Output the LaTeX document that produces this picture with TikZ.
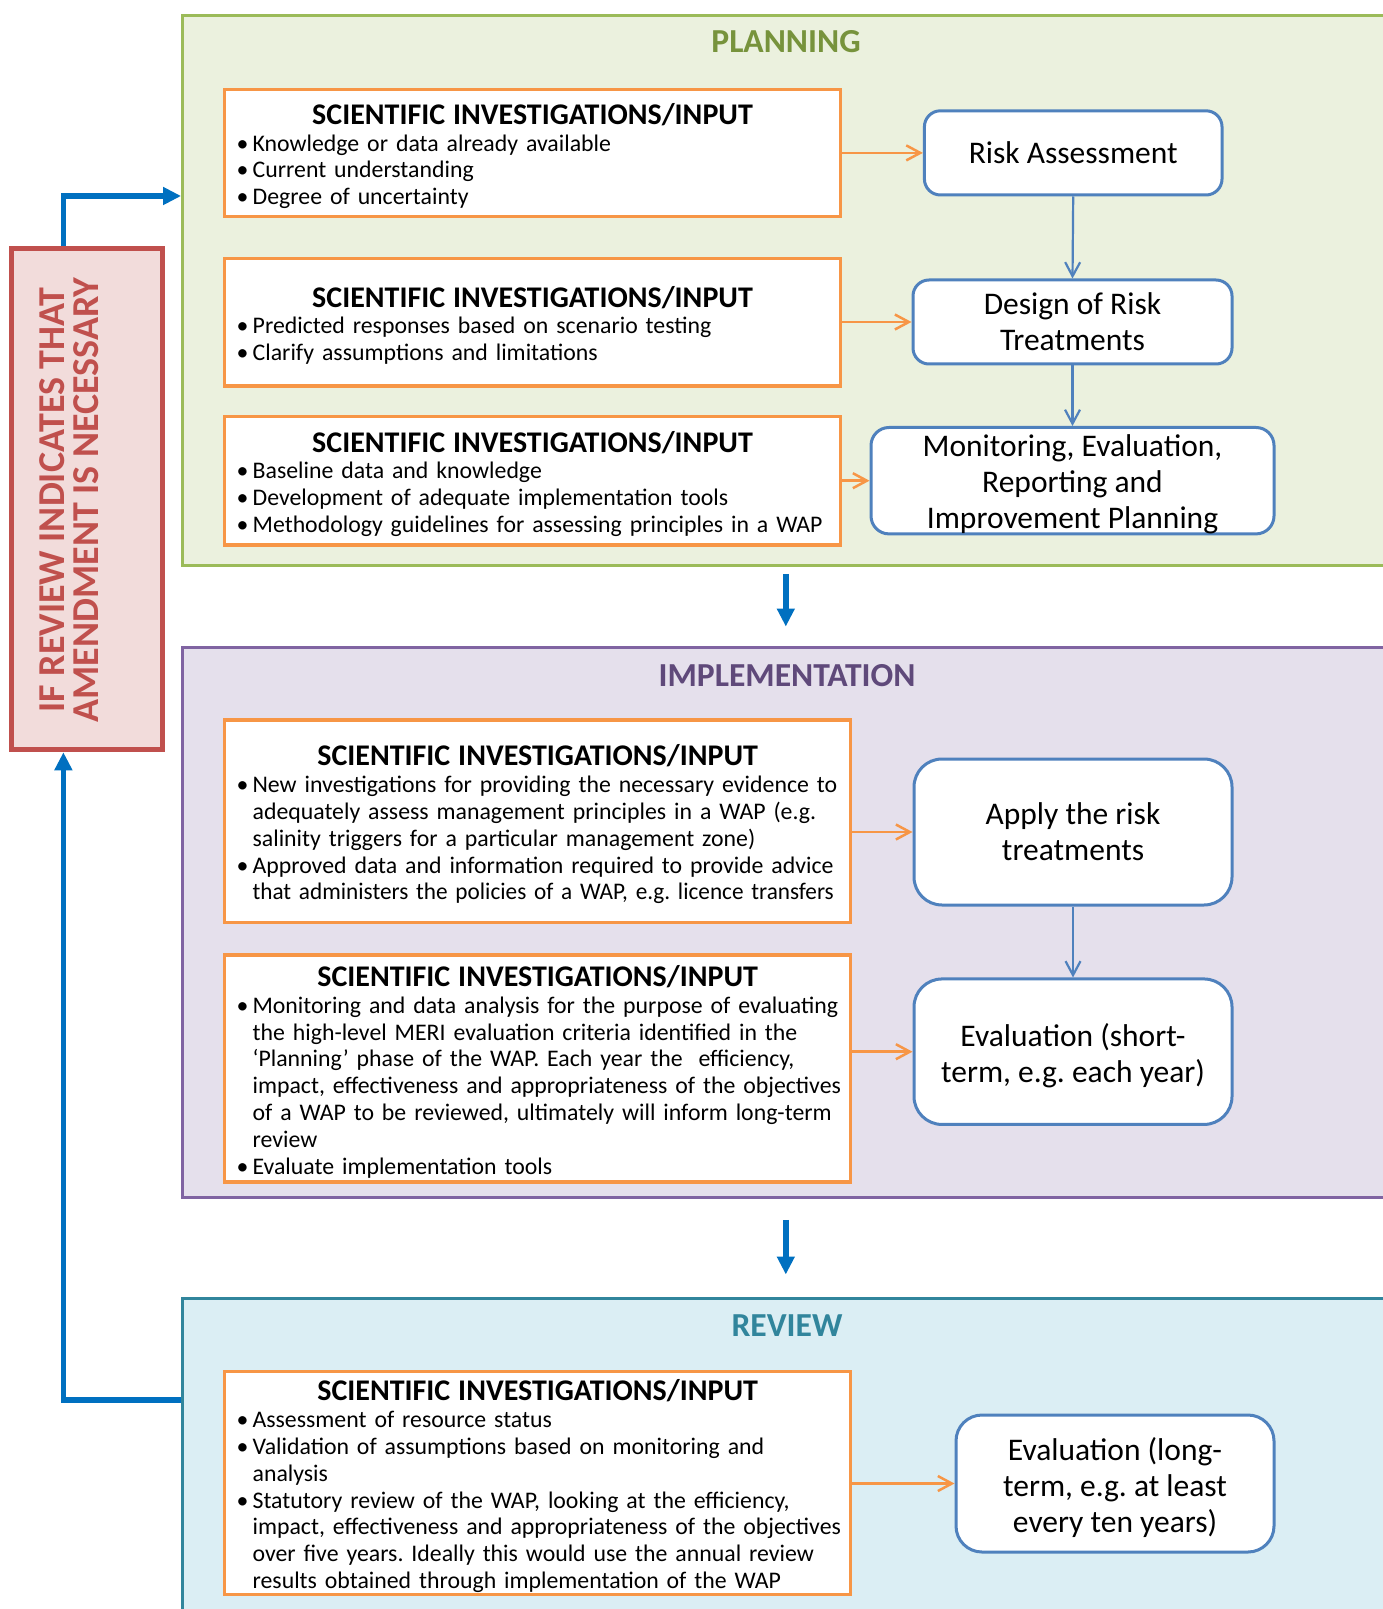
\documentclass[tikz,border=0pt]{standalone}
\usepackage{fontspec}
\usepackage{graphicx}
\setmainfont{Carlito}
\usetikzlibrary{arrows.meta,calc}
\definecolor{gfill}{HTML}{EBF1DE}
\definecolor{gline}{HTML}{9BBB59}
\definecolor{gtext}{HTML}{77933C}
\definecolor{pfill}{HTML}{E5E0EC}
\definecolor{pline}{HTML}{8064A2}
\definecolor{ptext}{HTML}{5F497A}
\definecolor{rfill}{HTML}{DBEEF4}
\definecolor{rline}{HTML}{31859C}
\definecolor{sorange}{HTML}{F79646}
\definecolor{bbox}{HTML}{4F81BD}
\definecolor{arrblue}{HTML}{0070C0}
\definecolor{redline}{HTML}{C0504D}
\definecolor{redfill}{HTML}{F2DCDB}
\frenchspacing
\newcommand\bl[1]{\par\noindent\makebox[6pt][l]{\hspace*{-2pt}•}\mbox{#1}}
\newcommand\cl[1]{\par\noindent\hspace*{6pt}\mbox{#1}}
\newcommand\sititle{{\centering\fontsize{15}{15.5}\selectfont\bfseries\rule{0pt}{13.7pt}SCIENTIFIC INVESTIGATIONS/INPUT\par}}
\begin{document}
\begin{tikzpicture}[x=0.5pt,y=-0.5pt,
  phase/.style={line width=1.5pt, minimum width=603.2pt, inner sep=0pt},
  phtitle/.style={font=\fontsize{16.8}{18}\selectfont\bfseries, inner sep=0pt},
  sibox/.style={draw=sorange, line width=1.75pt, fill=white, inner xsep=8pt, inner ysep=0pt,
    align=left, font=\fontsize{11.9}{13.4}\selectfont},
  pw/.style={text width=291.8pt},
  iw/.style={text width=297pt},
  rbox/.style={draw=bbox, line width=1.5pt, fill=white, align=center, inner sep=0pt,
    font=\fontsize{15.75}{18}\selectfont},
  oarr/.style={draw=sorange, line width=1.25pt, -{Straight Barb[length=7pt,width=7.5pt]}},
  barr/.style={draw=bbox, line width=1.1pt, -{Straight Barb[length=7pt,width=7.5pt]}},
  bigarr/.style={draw=arrblue, line width=2.75pt, -{Triangle[length=9pt,width=8.5pt]}}
]
\useasboundingbox (0,0) rectangle (1382,1609);
% phases
\node[phase, draw=gline, fill=gfill, minimum height=274.95pt] (plan) at (785.8,290.4) {};
\node[phase, draw=pline, fill=pfill, minimum height=274.95pt] (impl) at (785.8,922.4) {};
\node[phase, draw=rline, fill=rfill, minimum height=175pt] (rev) at (785.8,1473) {};
\node[phtitle, text=gtext] (ptitle) at (786,42) {PLANNING};
\node[phtitle, text=ptext] (ititle) at (787,676) {IMPLEMENTATION};
\node[phtitle, text=rline] (rtitle) at (787,1325.6) {REVIEW};
% planning
\node[sibox, pw, minimum height=63.6pt] (p1) at (532.5,152.9) {\sititle
 \bl{Knowledge or data already available}
 \bl{Current understanding}
 \bl{Degree of uncertainty}};
\node[sibox, pw, minimum height=63.6pt] (p2) at (532.5,322.2) {\sititle
 \bl{Predicted responses based on scenario testing}
 \bl{Clarify assumptions and limitations}};
\node[sibox, pw, minimum height=64.1pt] (p3) at (532.5,480.7) {\sititle
 \bl{Baseline data and knowledge}
 \bl{Development of adequate implementation tools}
 \bl{Methodology guidelines for assessing principles in a WAP}};
\node[rbox, rounded corners=8pt, minimum width=148.8pt, minimum height=42.1pt] (ra) at (1073.2,152.9) {Risk Assessment};
\node[rbox, rounded corners=8pt, minimum width=159.5pt, minimum height=42pt] (dr) at (1072.5,322) {Design of Risk\\Treatments};
\node[rbox, rounded corners=9pt, minimum width=201.5pt, minimum height=52.75pt] (mo) at (1072.5,480.7) {\rule{0pt}{14.5pt}Monitoring, Evaluation,\\Reporting and\\Improvement Planning};
% implementation
\node[sibox, iw, minimum height=101.2pt] (i1) at (537.6,821.2) {\sititle
 \bl{New investigations for providing the necessary evidence to}
 \cl{adequately assess management principles in a WAP (e.g.}
 \cl{salinity triggers for a particular management zone)}
 \bl{Approved data and information required to provide advice}
 \cl{\scalebox{0.976}[1]{that administers the policies of a WAP, e.g. licence transfers}}};
\node[sibox, iw, minimum height=113.5pt] (i2) at (537.6,1068.5) {\sititle
 \bl{Monitoring and data analysis for the purpose of evaluating}
 \cl{the high-level MERI evaluation criteria identified in the}
 \cl{‘Planning’ phase of the WAP. Each year the\ \ efficiency,}
 \cl{impact, effectiveness and appropriateness of the objectives}
 \cl{of a WAP to be reviewed, ultimately will inform long-term}
 \cl{review}
 \bl{Evaluate implementation tools}};
\node[rbox, rounded corners=14pt, minimum width=159pt, minimum height=73pt] (ap) at (1073,832) {Apply the risk\\treatments};
\node[rbox, rounded corners=14pt, minimum width=159pt, minimum height=72.75pt] (es) at (1073,1051.7) {\rule{0pt}{15.3pt}Evaluation (short-\\term, e.g. each year)};
% review
\node[sibox, iw, minimum height=111.3pt] (r1) at (537.6,1483) {\sititle
 \bl{Assessment of resource status}
 \bl{Validation of assumptions based on monitoring and}
 \cl{analysis}
 \bl{Statutory review of the WAP, looking at the efficiency,}
 \cl{impact, effectiveness and appropriateness of the objectives}
 \cl{over five years. Ideally this would use the annual review}
 \cl{results obtained through implementation of the WAP}};
\node[rbox, rounded corners=13pt, minimum width=159pt, minimum height=68.5pt] (el) at (1115,1483.5) {\rule{0pt}{15.3pt}Evaluation (long-\\term, e.g. at least\\every ten years)};
% red box
\node[draw=redline, fill=redfill, line width=2.75pt, minimum width=75.5pt, minimum height=250.5pt, inner sep=0pt] (red) at (87.2,499) {};
\node[rotate=90, align=center, text=redline, font=\fontsize{19}{17.3}\selectfont\bfseries, inner sep=0pt] (redtxt) at (69,500) {IF REVIEW INDICATES THAT\\AMENDMENT IS NECESSARY};
% connectors
\draw[oarr] (p1.east |- ra.west) -- (ra.west);
\draw[oarr] (p2.east |- dr.west) -- (dr.west);
\draw[oarr] (p3.east |- mo.west) -- (mo.west);
\draw[oarr] (i1.east |- ap.west) -- (ap.west);
\draw[oarr] (i2.east |- es.west) -- (es.west);
\draw[oarr] (r1.east |- el.west) -- (el.west);
\draw[barr] (ra.south) -- (dr.north);
\draw[barr] (dr.south) -- (mo.north);
\draw[barr] (ap.south) -- (es.north);
\draw[bigarr] ($(plan.south)+(0,7)$) -- ($(impl.north)+(0,-19.4)$);
\draw[bigarr] ($(impl.south)+(0,21)$) -- ($(rev.north)+(0,-22)$);
\coordinate (fbx) at (63.4,0);
\coordinate (fbtop) at (0,196);
\coordinate (fbbot) at (0,1400);
\draw[bigarr] (red.north -| fbx) |- (plan.west |- fbtop);
\draw[bigarr] (rev.west |- fbbot) -| (red.south -| fbx);
\end{tikzpicture}
\end{document}
